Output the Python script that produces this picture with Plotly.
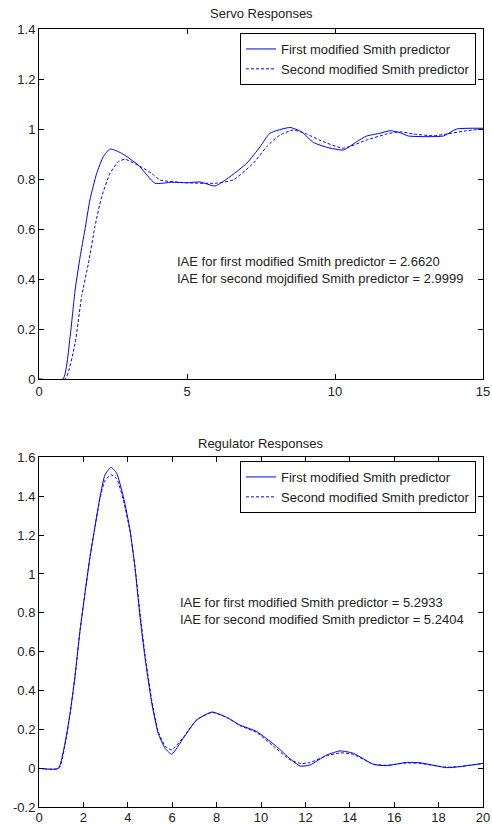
import plotly.graph_objects as go

# ---------- Servo responses (top) ----------
servo_t1 = [0, 0.81, 1.05, 1.22, 1.39, 1.55, 1.72, 1.95, 2.17, 2.4, 2.79, 3.36, 3.92, 4.48, 4.99,
            5.44, 5.95, 6.45, 7.02, 7.47, 7.8, 8.48, 8.87, 9.27, 9.72, 10.28, 10.73, 11.07, 11.52,
            11.86, 12.2, 12.48, 13.66, 14.11, 15]
servo_y1 = [0, 0, 0.169, 0.356, 0.489, 0.596, 0.716, 0.823, 0.889, 0.92, 0.903, 0.855, 0.783, 0.787,
            0.785, 0.788, 0.772, 0.809, 0.863, 0.929, 0.983, 1.006, 0.989, 0.946, 0.927, 0.916,
            0.949, 0.972, 0.983, 0.993, 0.985, 0.972, 0.972, 1.0, 1.003]
servo_t2 = [0, 0.88, 1.22, 1.44, 1.67, 1.89, 2.12, 2.4, 2.68, 2.9, 3.41, 3.8, 4.09, 4.99, 5.95, 6.56,
            7.24, 7.69, 8.14, 8.59, 9.04, 9.49, 10.28, 11.07, 11.75, 12.2, 12.65, 13.32, 13.77,
            14.45, 15]
servo_y2 = [0, 0, 0.144, 0.33, 0.463, 0.61, 0.73, 0.823, 0.869, 0.879, 0.851, 0.823, 0.796, 0.785,
            0.783, 0.796, 0.863, 0.929, 0.976, 0.996, 0.98, 0.955, 0.923, 0.956, 0.98, 0.989, 0.98,
            0.973, 0.98, 0.993, 1.0]

# ---------- Regulator responses (bottom) ----------
reg_t1 = [0, 0.87, 1.17, 1.4, 1.62, 1.85, 2.07, 2.3, 2.52, 2.75, 2.97, 3.24, 3.5, 3.8, 4.1, 4.32,
          4.55, 4.77, 5.08, 5.37, 5.68, 5.98, 6.5, 7.1, 7.8, 8.5, 9.05, 9.8, 10.71, 11.3, 11.76,
          12.2, 12.96, 13.56, 14.16, 15.06, 15.66, 16.56, 17.16, 18.36, 18.96, 20]
reg_y1 = [0, 0, 0.129, 0.283, 0.472, 0.712, 0.9, 1.089, 1.243, 1.397, 1.509, 1.549, 1.518, 1.397,
          1.226, 1.037, 0.78, 0.574, 0.335, 0.18, 0.103, 0.073, 0.155, 0.249, 0.29, 0.26, 0.223,
          0.19, 0.112, 0.05, 0.012, 0.017, 0.069, 0.09, 0.078, 0.021, 0.014, 0.031, 0.029, 0.004,
          0.009, 0.026]
reg_t2 = [0, 0.9, 1.17, 1.4, 1.62, 1.85, 2.07, 2.3, 2.52, 2.75, 2.97, 3.24, 3.5, 3.8, 4.1, 4.32,
          4.55, 4.77, 5.08, 5.37, 5.68, 5.98, 6.5, 7.1, 7.8, 8.5, 9.05, 9.8, 10.71, 11.3, 11.8,
          12.2, 12.96, 13.6, 14.16, 15.06, 15.66, 16.56, 17.16, 18.36, 18.96, 20]
reg_y2 = [0, 0, 0.12, 0.28, 0.47, 0.71, 0.9, 1.09, 1.24, 1.39, 1.48, 1.51, 1.49, 1.38, 1.22, 1.04,
          0.8, 0.59, 0.35, 0.19, 0.115, 0.095, 0.16, 0.25, 0.288, 0.26, 0.22, 0.185, 0.1, 0.045,
          0.025, 0.03, 0.065, 0.08, 0.072, 0.022, 0.016, 0.028, 0.026, 0.006, 0.01, 0.025]

series_names = ["First modified Smith predictor", "Second modified Smith predictor"]
titles = ["Servo Responses", "Regulator Responses"]
servo_text = ["IAE for first modified Smith predictor = 2.6620",
              "IAE for second mojdified Smith predictor = 2.9999"]
reg_text = ["IAE for first modified Smith predictor = 5.2933",
            "IAE for second modified Smith predictor = 5.2404"]

servo_xticks = [0, 5, 10, 15]
servo_yticks = [0, 0.2, 0.4, 0.6, 0.8, 1.0, 1.2, 1.4]
servo_ylabels = ["0", "0.2", "0.4", "0.6", "0.8", "1", "1.2", "1.4"]
reg_xticks = [0, 2, 4, 6, 8, 10, 12, 14, 16, 18, 20]
reg_yticks = [-0.2, 0, 0.2, 0.4, 0.6, 0.8, 1.0, 1.2, 1.4, 1.6]
reg_ylabels = ["-0.2", "0", "0.2", "0.4", "0.6", "0.8", "1", "1.2", "1.4", "1.6"]

W, H = 492, 824
BLUE = "#0000ff"
FONT = "Liberation Sans, Arial, sans-serif"
TXT = "#222"

fig = go.Figure()
fig.add_trace(go.Scatter(x=servo_t1, y=servo_y1, mode="lines", name=series_names[0],
                         line=dict(color=BLUE, width=1, shape="spline", smoothing=0.5),
                         xaxis="x", yaxis="y", legend="legend"))
fig.add_trace(go.Scatter(x=servo_t2, y=servo_y2, mode="lines", name=series_names[1],
                         line=dict(color=BLUE, width=1, dash="3px,2px", shape="spline", smoothing=0.5),
                         xaxis="x", yaxis="y", legend="legend"))
fig.add_trace(go.Scatter(x=reg_t1, y=reg_y1, mode="lines", name=series_names[0],
                         line=dict(color=BLUE, width=1, shape="spline", smoothing=0.5),
                         xaxis="x2", yaxis="y2", legend="legend2"))
fig.add_trace(go.Scatter(x=reg_t2, y=reg_y2, mode="lines", name=series_names[1],
                         line=dict(color=BLUE, width=1, dash="3px,2px", shape="spline", smoothing=0.5),
                         xaxis="x2", yaxis="y2", legend="legend2"))

axis_common = dict(showgrid=False, zeroline=False, showline=True, linecolor="black", linewidth=1,
                   mirror="ticks", ticks="inside", ticklen=5, tickcolor="black", automargin=False,
                   tickfont=dict(family=FONT, size=13, color=TXT))

L, R = 39, 483
top_y = (29, 379)
bot_y = (457.3, 807.3)

legend_common = dict(xanchor="right", yanchor="top", bordercolor="black", borderwidth=1,
                     bgcolor="white", font=dict(family=FONT, size=13, color=TXT),
                     tracegroupgap=0, itemwidth=30)

fig.update_layout(
    width=W, height=H,
    margin=dict(l=0, r=0, t=0, b=0),
    paper_bgcolor="white", plot_bgcolor="white",
    font=dict(family=FONT, size=13, color=TXT),
    xaxis=dict(domain=[L / W, R / W], range=[0, 15], tickvals=servo_xticks, anchor="y", **axis_common),
    yaxis=dict(domain=[1 - top_y[1] / H, 1 - top_y[0] / H], range=[0, 1.4], tickvals=servo_yticks,
               ticktext=servo_ylabels, anchor="x", **axis_common),
    xaxis2=dict(domain=[L / W, R / W], range=[0, 20], tickvals=reg_xticks, anchor="y2",
                ticklabelstandoff=-2, **axis_common),
    yaxis2=dict(domain=[1 - bot_y[1] / H, 1 - bot_y[0] / H], range=[-0.2, 1.6], tickvals=reg_yticks,
                ticktext=reg_ylabels, anchor="x2", **axis_common),
    legend=dict(x=476 / W, y=1 - 33 / H, **legend_common),
    legend2=dict(x=476 / W, y=1 - 461 / H, **legend_common),
    showlegend=True,
)

fig.add_annotation(text=titles[0], xref="paper", yref="paper", x=(L + R) / 2 / W, y=1 - 14 / H,
                   showarrow=False, xanchor="center", yanchor="middle", font=dict(size=13))
fig.add_annotation(text=titles[1], xref="paper", yref="paper", x=(L + R) / 2 / W, y=1 - 443 / H,
                   showarrow=False, xanchor="center", yanchor="middle", font=dict(size=13))
fig.add_annotation(text="<br>".join(servo_text), xref="x", yref="y", x=4.6, y=0.436,
                   showarrow=False, xanchor="left", yanchor="middle", align="left", font=dict(size=13))
fig.add_annotation(text="<br>".join(reg_text), xref="x2", yref="y2", x=6.26, y=0.81,
                   showarrow=False, xanchor="left", yanchor="middle", align="left", font=dict(size=13))

fig.write_html("out.html", config={"displayModeBar": False},
               post_script="document.body.style.margin='0px';"
                           "document.documentElement.style.overflow='hidden';")
